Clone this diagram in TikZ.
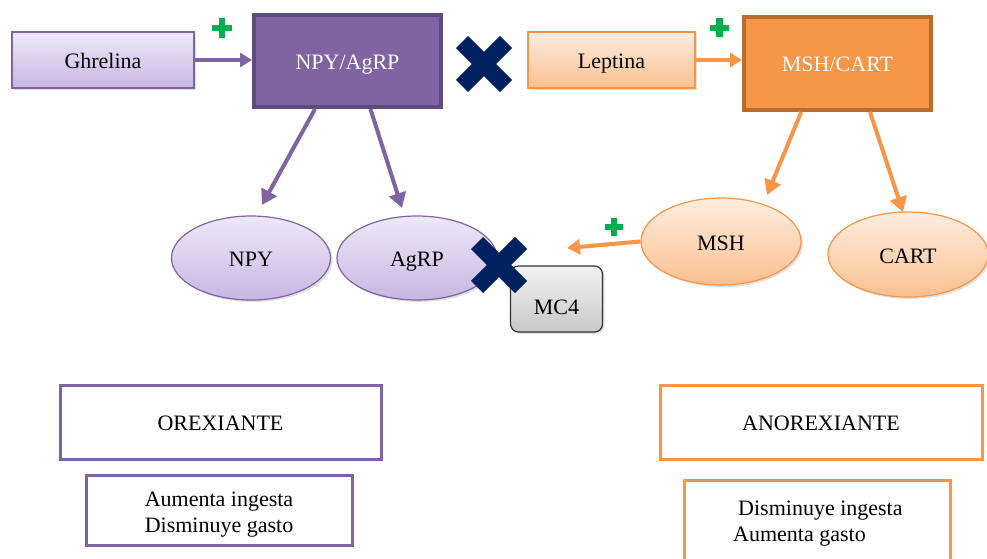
\documentclass[tikz,border=0pt]{standalone}
\usepackage{fontspec}
\setmainfont{Liberation Serif}
\usetikzlibrary{shapes.geometric,arrows.meta,calc,shadows}
\definecolor{purp}{HTML}{8064A2}
\definecolor{purpdark}{HTML}{5F4A80}
\definecolor{lavtop}{HTML}{EEE8F8}
\definecolor{lavbot}{HTML}{C8B6E2}
\definecolor{orng}{HTML}{F79646}
\definecolor{orngdark}{HTML}{B86D2E}
\definecolor{peachtop}{HTML}{FEEDE0}
\definecolor{peachbot}{HTML}{FAC08F}
\definecolor{navyx}{HTML}{002060}
\definecolor{greenp}{HTML}{00B050}
\definecolor{graytop}{HTML}{F2F2F2}
\definecolor{graybot}{HTML}{C8C8C8}
\tikzset{
  txt/.style={font=\fontsize{22}{26}\selectfont, align=center, inner sep=0pt},
  one/.style={txt, text height=21pt, text depth=4pt},
  softshadow/.style={drop shadow={opacity=0.25, shadow xshift=2pt, shadow yshift=-2pt}},
  lavbox/.style={one, draw=purp, line width=1.5pt, top color=lavtop, bottom color=lavbot, softshadow},
  peachbox/.style={one, draw=orng, line width=1.5pt, top color=peachtop, bottom color=peachbot, softshadow},
  bigpurp/.style={one, draw=purpdark, line width=4pt, fill=purp, text=white},
  bigorng/.style={one, draw=orngdark, line width=4pt, fill=orng, text=white},
  lavell/.style={one, ellipse, draw=purp, line width=1.2pt, top color=lavtop, bottom color=lavbot, softshadow},
  peachell/.style={one, ellipse, draw=orng, line width=1.2pt, top color=peachtop, bottom color=peachbot, softshadow},
  purpframe/.style={one, draw=purp, line width=3pt, fill=white},
  orngframe/.style={one, draw=orng, line width=3pt, fill=white},
  parrow/.style={draw=purp, line width=4pt, -{Triangle[width=17pt,length=15pt]}},
  oarrow/.style={draw=orng, line width=4pt, -{Triangle[width=17pt,length=15pt]}},
  crossmark/.style={draw=navyx, line width=17pt, line cap=butt},
  plusmark/.style={draw=greenp, line width=6.5pt, line cap=butt},
}
\begin{document}
\begin{tikzpicture}[x=1pt,y=-1pt]
\useasboundingbox (0,0) rectangle (987,559);
\fill[white] (0,0) rectangle (987,559);

% top row
\node[lavbox, minimum width=182pt, minimum height=56pt] (ghr) at (103,60) {Ghrelina};
\node[bigpurp, minimum width=187pt, minimum height=92pt] (npyagrp) at (347.5,61) {NPY/AgRP};
\node[peachbox, minimum width=167pt, minimum height=56pt] (lep) at (611.5,60) {Leptina};
\node[bigorng, minimum width=187pt, minimum height=93pt] (mshcart) at (837.5,63.5) {MSH/CART};

% ellipses
\node[lavell, minimum width=159pt, minimum height=84pt] (npy) at (251,258) {NPY};
\node[lavell, minimum width=160pt, minimum height=84pt] (agrp) at (417,258) {AgRP};
\node[peachell, minimum width=160pt, minimum height=87pt] (msh) at (721,241.5) {MSH};
\node[peachell, minimum width=160pt, minimum height=85pt] (cart) at (908,254.5) {CART};

% MC4
\node[one, draw=black!80, line width=1.2pt, rounded corners=8pt, top color=graytop, bottom color=graybot, minimum width=92pt, minimum height=66pt, softshadow] (mc4) at (556.5,299) {\raisebox{-7pt}{MC4}};

% arrows
\draw[draw=purp, line width=4pt, -{Triangle[width=14pt,length=12pt]}] (ghr.east) -- (ghr.east -| npyagrp.west);
\draw[draw=orng, line width=4pt, -{Triangle[width=14pt,length=12pt]}] (lep.east) -- (lep.east -| mshcart.west);

\coordinate (tnpy) at (262,205);
\coordinate (tagrp) at (402,208);
\coordinate (tmsh) at (767,195);
\coordinate (tcart) at (903,212);
\coordinate (tmc) at (567,248);
\draw[parrow] ($(npyagrp.south west)!0.33!(npyagrp.south east)$) -- (tnpy);
\draw[parrow] ($(npyagrp.south west)!0.62!(npyagrp.south east)$) -- (tagrp);
\draw[oarrow] ($(mshcart.south west)!0.31!(mshcart.south east)$) -- (tmsh);
\draw[oarrow] ($(mshcart.south west)!0.67!(mshcart.south east)$) -- (tcart);
\draw[draw=orng, line width=4pt, -{Triangle[width=15pt,length=13pt]}] (msh.west) -- (tmc);

% crosses
\draw[crossmark] (462,42) -- (506,86) (462,86) -- (506,42);
\draw[crossmark] (477,243) -- (521,287) (477,287) -- (521,243);

% plus signs
\draw[plusmark] (212,28) -- (232,28) (222,18) -- (222,38);
\draw[plusmark] (710,28) -- (729,28) (719.5,18.5) -- (719.5,37.5);
\draw[plusmark] (605,227) -- (623,227) (614,218) -- (614,236);

% bottom boxes
\node[purpframe, minimum width=321pt, minimum height=74pt] (orex) at (220.5,422) {OREXIANTE};
\node[purpframe, minimum width=266pt, minimum height=70pt] (orexbox) at (219,510) {};
\node[txt] (orexfx) at (219,515) {Aumenta ingesta\\Disminuye gasto};
\node[orngframe, minimum width=322pt, minimum height=74pt] (anorex) at (821,422) {ANOREXIANTE};
\node[orngframe, minimum width=266pt, minimum height=82pt] (anorexbox) at (817,521) {};
\node[txt, align=left, anchor=north west] (anorexfx) at (733,501) {\hspace*{5pt}Disminuye ingesta\\Aumenta gasto};
\end{tikzpicture}
\end{document}
